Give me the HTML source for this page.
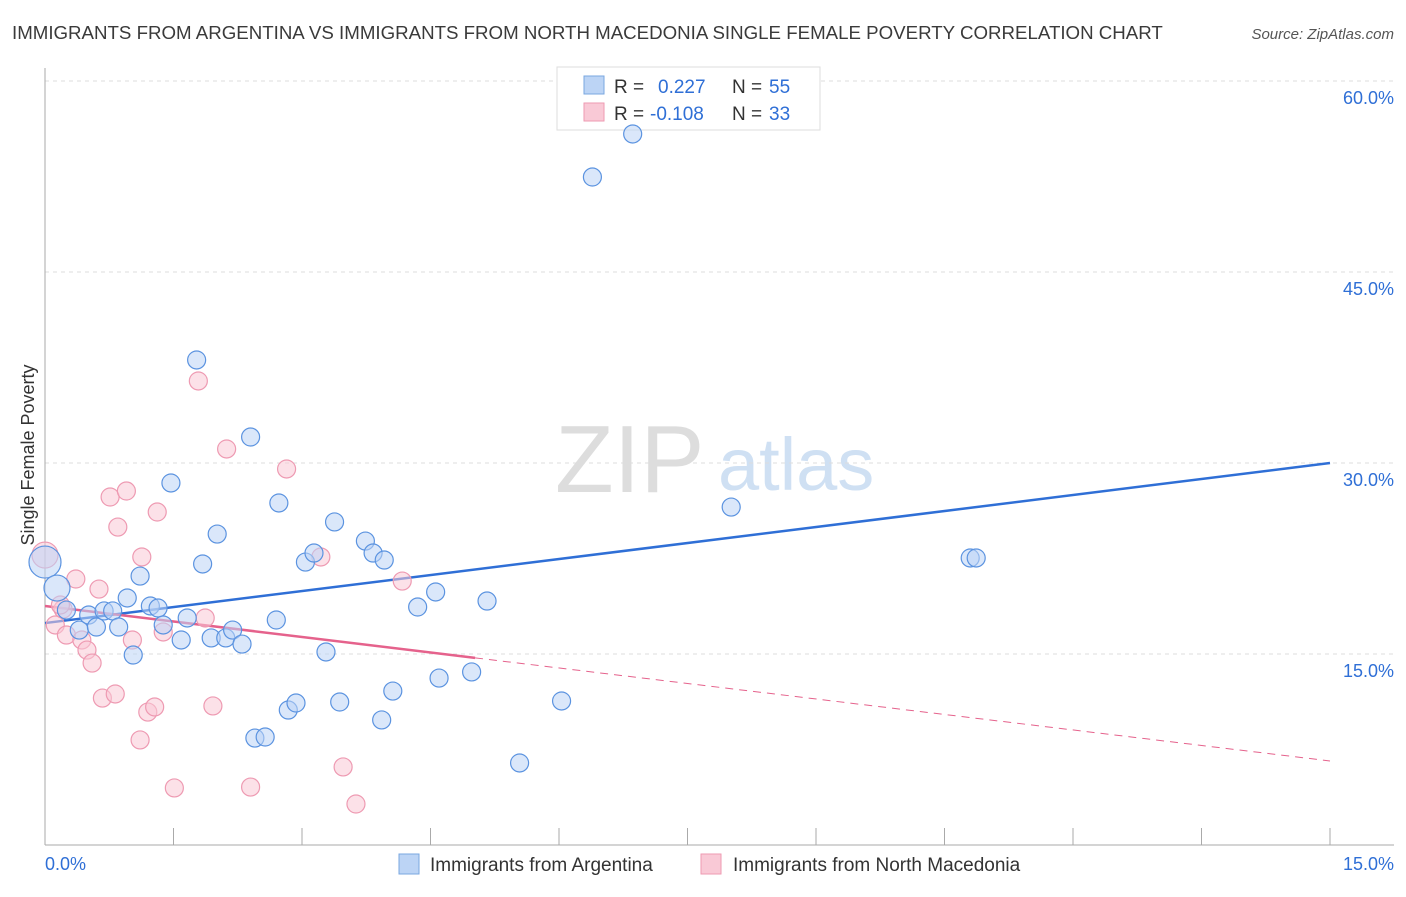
<!DOCTYPE html>
<html><head><meta charset="utf-8"><style>
body{margin:0;background:#fff;font-family:"Liberation Sans",sans-serif}
svg text{font-family:"Liberation Sans",sans-serif}
</style></head><body>
<svg id="chart" width="1406" height="892" xmlns="http://www.w3.org/2000/svg">
<text x="12" y="39" font-size="18.7" fill="#3a3a3a">IMMIGRANTS FROM ARGENTINA VS IMMIGRANTS FROM NORTH MACEDONIA SINGLE FEMALE POVERTY CORRELATION CHART</text>
<text x="1394" y="39" font-size="15" fill="#555" font-style="italic" text-anchor="end">Source: ZipAtlas.com</text>
<g>
<text x="555" y="492" font-size="96" fill="#ddd" font-family="Liberation Serif,serif">ZIP</text>
<text x="718" y="490" font-size="74" fill="#cfe0f3">atlas</text>
</g>
<g id="grid"></g>
<g id="axes"></g>
<g>
<rect x="557" y="67" width="263" height="63" fill="#fff" stroke="#ddd"/>
<rect x="584" y="76" width="20" height="18" fill="#bcd4f5" stroke="#7aa7e0"/>
<rect x="584" y="103" width="20" height="18" fill="#f9c9d6" stroke="#ee9ab2"/>
<text x="614" y="93" font-size="19" fill="#333">R = </text><text x="658" y="93" font-size="19" fill="#2f6fd6">0.227</text>
<text x="732" y="93" font-size="19" fill="#333">N = </text><text x="769" y="93" font-size="19" fill="#2f6fd6">55</text>
<text x="614" y="120" font-size="19" fill="#333">R = </text><text x="650" y="120" font-size="19" fill="#2f6fd6">-0.108</text>
<text x="732" y="120" font-size="19" fill="#333">N = </text><text x="769" y="120" font-size="19" fill="#2f6fd6">33</text>
</g>
<g id="lines"></g>
<g id="pts"></g>
<text transform="translate(34,455) rotate(-90)" font-size="18" fill="#333" text-anchor="middle">Single Female Poverty</text>
<g>
<rect x="399" y="854" width="20" height="20" fill="#bcd4f5" stroke="#7aa7e0"/>
<text x="430" y="871" font-size="19" fill="#333">Immigrants from Argentina</text>
<rect x="701" y="854" width="20" height="20" fill="#f9c9d6" stroke="#ee9ab2"/>
<text x="733" y="871" font-size="19" fill="#333">Immigrants from North Macedonia</text>
</g>
</svg>
<script>
const yTicks=[15,30,45,60];
const yTickLabels=["15.0%","30.0%","45.0%","60.0%"];
const xTicks=[0,1.5,3,4.5,6,7.5,9,10.5,12,13.5,15];
const blueX=[0,0.14,0.25,0.40,0.51,0.60,0.69,0.79,0.86,0.96,1.03,1.11,1.23,1.32,1.38,1.47,1.59,1.66,1.77,1.84,1.94,2.01,2.11,2.19,2.30,2.40,2.45,2.57,2.70,2.73,2.84,2.93,3.04,3.14,3.28,3.38,3.44,3.74,3.83,3.96,4.06,3.93,4.35,4.56,4.60,4.98,5.16,5.54,6.03,6.39,6.86,8.01,10.80,10.87];
const blueY=[22.22,20.18,18.45,16.88,18.06,17.12,18.38,18.38,17.12,19.40,14.92,21.12,18.77,18.61,17.28,28.43,16.10,17.83,38.09,22.07,16.26,24.42,16.26,16.88,15.78,32.04,8.40,8.48,17.67,26.86,10.60,11.15,22.22,22.93,15.16,25.37,11.23,23.87,22.93,22.38,12.09,9.82,18.69,19.87,13.11,13.59,19.16,6.44,11.31,52.46,55.84,26.54,22.54,22.54];
const blueSize=[16,13];
const pinkX=[0,0.12,0.21,0.25,0.36,0.43,0.49,0.55,0.63,0.67,0.76,0.82,0.85,0.95,1.02,1.13,1.11,1.20,1.28,1.31,1.38,1.51,1.79,1.87,1.96,2.12,2.40,2.82,3.22,3.48,3.63,4.17,0.18];
const pinkY=[22.77,17.28,18.53,16.49,20.89,16.10,15.31,14.29,20.10,11.54,27.33,11.86,24.97,27.80,16.10,22.62,8.25,10.44,10.84,26.15,16.73,4.48,36.44,17.83,10.92,31.10,4.55,29.53,22.62,6.13,3.22,20.73,18.85];
const pinkSize=[13];
const blueTrend=[17.43,30.0];
const pinkTrend=[18.77,6.60];
const pinkSolidEnd=5.02;

const NS="http://www.w3.org/2000/svg";
const sx=v=>45+v*(1285/15);
const sy=v=>845-v*(191/15);
function mk(tag,attrs,parent){const e=document.createElementNS(NS,tag);for(const k in attrs)e.setAttribute(k,attrs[k]);parent.appendChild(e);return e;}
const grid=document.getElementById('grid'),axes=document.getElementById('axes'),lines=document.getElementById('lines'),pts=document.getElementById('pts');
yTicks.forEach((t,i)=>{
 const l=mk('line',{x1:45,x2:1394,y1:sy(t),y2:sy(t),stroke:'#ddd','stroke-dasharray':'4 4'},grid);
 
 
 const tx=mk('text',{x:1394,y:sy(t)+23,'font-size':18,fill:'#2f6fd6','text-anchor':'end'},grid);
 tx.textContent=yTickLabels[i];
 
 
});
const ax=mk('line',{x1:45,x2:45,y1:68,y2:845,stroke:'#aaa'},axes);


const bx=mk('line',{x1:45,x2:1394,y1:845,y2:845,stroke:'#aaa'},axes);


xTicks.forEach(t=>{
 const l=mk('line',{x1:sx(t),x2:sx(t),y1:828,y2:845,stroke:'#aaa'},axes);
 
 
});
const xl0=mk('text',{x:45,y:870,'font-size':18,fill:'#2f6fd6'},axes);xl0.textContent='0.0%';


const xl1=mk('text',{x:1394,y:870,'font-size':18,fill:'#2f6fd6','text-anchor':'end'},axes);xl1.textContent='15.0%';



function dots(X,Y,S,fill,stroke,name){
 X.forEach((x,i)=>{
  const c=mk('circle',{cx:sx(x),cy:sy(Y[i]),r:S[i]||9,fill:fill,'fill-opacity':0.55,stroke:stroke,'stroke-width':1.2},pts);
  
  
 });
}
dots(pinkX,pinkY,pinkSize,'#f9c9d6','#ee9ab2','pink-point');
dots(blueX,blueY,blueSize,'#bcd4f5','#5b93e0','blue-point');

const bl=mk('line',{x1:sx(0),y1:sy(blueTrend[0]),x2:sx(15),y2:sy(blueTrend[1]),stroke:'#2f6fd6','stroke-width':2.5},lines);


const pe=pinkTrend[0]+(pinkTrend[1]-pinkTrend[0])*pinkSolidEnd/15;
const pl=mk('line',{x1:sx(0),y1:sy(pinkTrend[0]),x2:sx(pinkSolidEnd),y2:sy(pe),stroke:'#e5628c','stroke-width':2.5},lines);


const pd=mk('line',{x1:sx(pinkSolidEnd),y1:sy(pe),x2:sx(15),y2:sy(pinkTrend[1]),stroke:'#e5628c','stroke-width':1,'stroke-dasharray':'8 6'},lines);


</script>
</body></html>
